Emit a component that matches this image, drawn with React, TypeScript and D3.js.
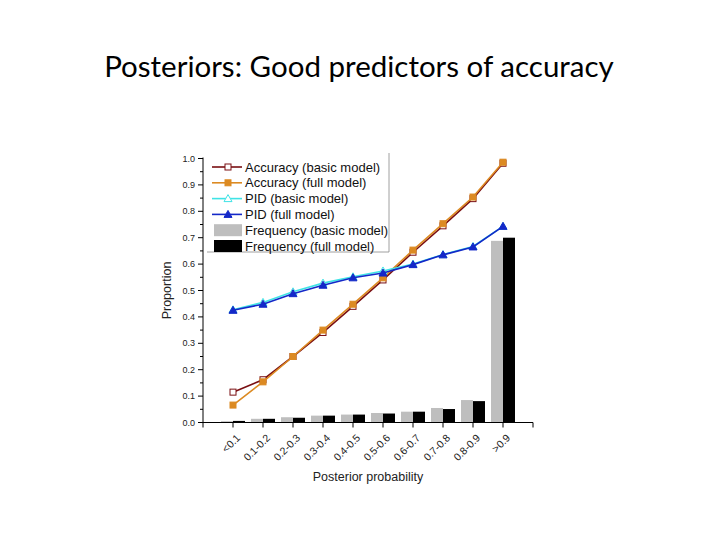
import { useMemo } from "react";
import * as d3 from "d3";

const categories = ["<0.1", "0.1-0.2", "0.2-0.3", "0.3-0.4", "0.4-0.5", "0.5-0.6", "0.6-0.7", "0.7-0.8", "0.8-0.9", ">0.9"];
const accuracyBasic = [0.115, 0.162, 0.25, 0.341, 0.44, 0.54, 0.645, 0.745, 0.848, 0.982];
const accuracyFull = [0.066, 0.154, 0.25, 0.35, 0.448, 0.548, 0.653, 0.753, 0.854, 0.986];
const pidBasic = [0.427, 0.455, 0.495, 0.528, 0.552, 0.574, 0.6, 0.636, 0.667, 0.743];
const pidFull = [0.425, 0.448, 0.488, 0.52, 0.548, 0.566, 0.598, 0.635, 0.665, 0.743];
const freqBasic = [0.005, 0.014, 0.02, 0.026, 0.03, 0.036, 0.041, 0.055, 0.085, 0.688];
const freqFull = [0.006, 0.014, 0.018, 0.026, 0.03, 0.034, 0.041, 0.051, 0.081, 0.7];
const yTicks = [0, 0.1, 0.2, 0.3, 0.4, 0.5, 0.6, 0.7, 0.8, 0.9, 1.0];

const W = 720;
const H = 540;
const left = 203;
const right = 533;
const top = 158.5;
const bottom = 422.5;
const axisFont = "'Liberation Sans', Arial, sans-serif";

type Series = {
  name: string;
  values: number[];
  color: string;
  marker: "square" | "triangle";
  filled: boolean;
};

const lineSeries: Series[] = [
  { name: "Accuracy (basic model)", values: accuracyBasic, color: "#7a0f12", marker: "square", filled: false },
  { name: "Accuracy (full model)", values: accuracyFull, color: "#dc8a22", marker: "square", filled: true },
  { name: "PID (basic model)", values: pidBasic, color: "#3fe3e6", marker: "triangle", filled: false },
  { name: "PID (full model)", values: pidFull, color: "#1428c8", marker: "triangle", filled: true },
];

const barSeries = [
  { name: "Frequency (basic model)", values: freqBasic, color: "#bebebe" },
  { name: "Frequency (full model)", values: freqFull, color: "#000000" },
];

function Marker({ s, x, y }: { s: Series; x: number; y: number }) {
  const fill = s.filled ? s.color : "#ffffff";
  if (s.marker === "square") {
    return <rect x={x - 3} y={y - 3} width={6} height={6} fill={fill} stroke={s.color} strokeWidth={1} />;
  }
  return (
    <path
      d={`M${x},${y - 4} L${x + 4},${y + 3} L${x - 4},${y + 3} Z`}
      fill={fill}
      stroke={s.color}
      strokeWidth={1}
    />
  );
}

export default function App() {
  const x = useMemo(() => d3.scaleLinear().domain([0, categories.length + 1]).range([left, right]), []);
  const y = useMemo(() => d3.scaleLinear().domain([0, 1]).range([bottom, top]), []);
  const line = d3
    .line<number>()
    .x((_, i) => x(i + 1))
    .y((d) => y(d));

  const barW = 12;
  const minorTicks = d3.range(0.05, 1, 0.1);
  const xTicks = d3.range(0, categories.length + 2);

  // legend placement
  const legX = 212;
  const legY0 = 167;
  const legStep = 15.8;

  return (
    <svg width={W} height={H} style={{ position: "absolute", left: 0, top: 0, background: "#fff" }}>
      <text x={359} y={77} textAnchor="middle" fontFamily="Lato, 'Open Sans', sans-serif" fontSize={29.5} fill="#000">
        Posteriors: Good predictors of accuracy
      </text>

      {/* bars */}
      {categories.map((c, i) => (
        <g key={c}>
          <rect x={x(i + 1) - barW} y={y(freqBasic[i])} width={barW} height={bottom - y(freqBasic[i])} fill={barSeries[0].color} />
          <rect x={x(i + 1)} y={y(freqFull[i])} width={barW} height={bottom - y(freqFull[i])} fill={barSeries[1].color} />
        </g>
      ))}

      {/* lines */}
      {lineSeries.map((s) => (
        <g key={s.name}>
          <path d={line(s.values) ?? ""} fill="none" stroke={s.color} strokeWidth={1.6} />
          {s.values.map((v, i) => (
            <Marker key={i} s={s} x={x(i + 1)} y={y(v)} />
          ))}
        </g>
      ))}

      {/* y axis */}
      <line x1={left} x2={left} y1={top - 1} y2={bottom} stroke="#000" strokeWidth={1} />
      {yTicks.map((t) => (
        <g key={t} transform={`translate(0,${y(t)})`}>
          <line x1={left - 5} x2={left} stroke="#000" strokeWidth={1} />
          <text x={left - 8} dy="0.35em" textAnchor="end" fontFamily={axisFont} fontSize={9} fill="#222">
            {t.toFixed(1)}
          </text>
        </g>
      ))}
      {minorTicks.map((t) => (
        <line key={t} x1={left - 3} x2={left} y1={y(t)} y2={y(t)} stroke="#000" strokeWidth={1} />
      ))}
      <text
        transform={`translate(171,${(top + bottom) / 2}) rotate(-90)`}
        textAnchor="middle"
        fontFamily={axisFont}
        fontSize={12.5}
        fill="#222"
      >
        Proportion
      </text>

      {/* x axis */}
      <line x1={left} x2={right} y1={bottom} y2={bottom} stroke="#000" strokeWidth={1} />
      {xTicks.map((t) => (
        <line key={t} x1={x(t)} x2={x(t)} y1={bottom} y2={bottom + 5} stroke="#000" strokeWidth={1} />
      ))}
      {categories.map((c, i) => (
        <text
          key={c}
          transform={`translate(${x(i + 1) + 8},${bottom + 16}) rotate(-45)`}
          textAnchor="end"
          fontFamily={axisFont}
          fontSize={10.5}
          fill="#222"
        >
          {c}
        </text>
      ))}
      <text x={368} y={481} textAnchor="middle" fontFamily={axisFont} fontSize={12.5} fill="#222">
        Posterior probability
      </text>

      {/* legend */}
      <line x1={207} x2={389} y1={252} y2={252} stroke="#888" strokeWidth={0.8} />
      <line x1={389} x2={389} y1={153} y2={252} stroke="#888" strokeWidth={0.8} />
      {lineSeries.map((s, i) => {
        const ly = legY0 + i * legStep;
        return (
          <g key={s.name}>
            <line x1={legX} x2={legX + 30} y1={ly} y2={ly} stroke={s.color} strokeWidth={1.6} />
            <Marker s={s} x={legX + 16} y={ly} />
            <text x={legX + 33} y={ly} dy="0.35em" fontFamily={axisFont} fontSize={13} fill="#111">
              {s.name}
            </text>
          </g>
        );
      })}
      {barSeries.map((b, i) => {
        const ly = legY0 + (i + 4) * legStep;
        return (
          <g key={b.name}>
            <rect x={legX + 2} y={ly - 6} width={28} height={12} fill={b.color} />
            <text x={legX + 33} y={ly} dy="0.35em" fontFamily={axisFont} fontSize={13} fill="#111">
              {b.name}
            </text>
          </g>
        );
      })}
    </svg>
  );
}
